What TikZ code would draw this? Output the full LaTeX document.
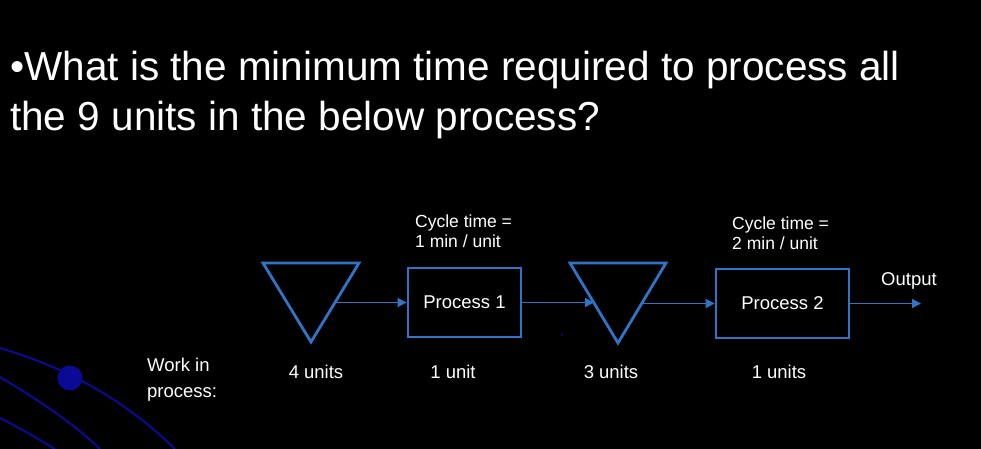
\documentclass[tikz,border=0pt]{standalone}
\usepackage{fontspec}
\setmainfont{Liberation Sans}
\usetikzlibrary{arrows.meta}
\definecolor{lb}{RGB}{46,117,200}
\definecolor{db}{RGB}{10,10,150}
\begin{document}
\begin{tikzpicture}[x=1pt,y=-1pt,
  box/.style={draw=lb,line width=2.8pt,minimum width=113pt,minimum height=69pt,inner sep=0pt,text=white,font=\fontsize{18.5}{20}\selectfont},
  tri/.style={draw=lb,line width=2.8pt},
  flow/.style={draw=lb,line width=1.6pt,-{Triangle[length=9pt,width=9pt]}},
  lbl/.style={text=white,font=\fontsize{17.5}{20}\selectfont,inner sep=0pt},
  lbll/.style={lbl,anchor=north west,align=left}]
\fill[black] (0,0) rectangle (981,449);
\useasboundingbox (0,0) rectangle (981,449);
% decoration
\draw[db,line width=2pt] (0,348) .. controls (40,360) and (110,385) .. (175,449);
\draw[db,line width=2pt] (0,377) .. controls (30,395) and (70,420) .. (100,449);
\draw[db,line width=2pt] (0,418) .. controls (20,428) and (40,440) .. (55,449);
\fill[db] (70,378) circle (12.5);
\fill[db] (562,335) circle (1.2);
% title
\node[text=white,anchor=north west,align=left,inner sep=0pt,font=\fontsize{40.5}{50}\selectfont] (title) at (10,51) {•What is the minimum time required to process all\\the 9 units in the below process?};
% shapes
\coordinate (t1a) at (263,263); \coordinate (t1b) at (359,263); \coordinate (t1c) at (311,342);
\draw[tri] (t1a) -- (t1b) -- (t1c) -- cycle;
\coordinate (t2a) at (570,263); \coordinate (t2b) at (666,263); \coordinate (t2c) at (618,343);
\draw[tri] (t2a) -- (t2b) -- (t2c) -- cycle;
\node[box] (p1) at (464.5,302.5) {Process 1};
\node[box,minimum width=133pt] (p2) at (782.5,303.5) {Process 2};
\coordinate (t1out) at (336,302.5);
\coordinate (t2in) at (594,302.5);
\coordinate (t2out) at (643,303.5);
\coordinate (out) at (921,303.5);
\draw[flow] (t1out) -- (p1.west);
\draw[flow] (p1.east) -- (t2in);
\draw[flow] (t2out) -- (p2.west);
\draw[flow] (p2.east) -- (out);
% labels
\node[lbll] (c1) at (415,215) {Cycle time =\\[0pt]1 min / unit};
\node[lbll] (c2) at (732,217) {Cycle time =\\[0pt]2 min / unit};
\node[lbl,font=\fontsize{18.5}{20}\selectfont] (o) at (909,281) {Output};
\node[lbll,font=\fontsize{18.5}{26}\selectfont] (wip) at (147,358) {Work in\\process:};
\node[lbl,font=\fontsize{18.5}{20}\selectfont] (u1) at (316,372) {4 units};
\node[lbl,font=\fontsize{18.5}{20}\selectfont] (u2) at (453,372) {1 unit};
\node[lbl,font=\fontsize{18.5}{20}\selectfont] (u3) at (611,372) {3 units};
\node[lbl,font=\fontsize{18.5}{20}\selectfont] (u4) at (779,372) {1 units};
\end{tikzpicture}
\end{document}
